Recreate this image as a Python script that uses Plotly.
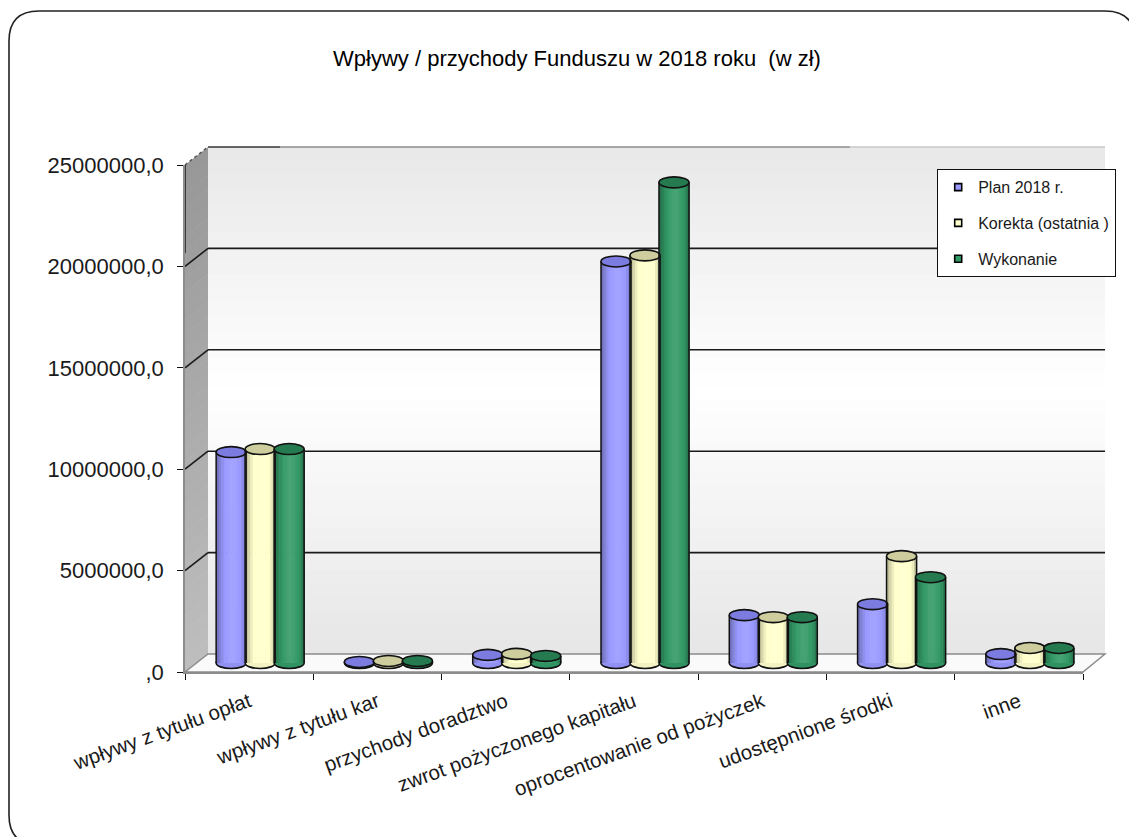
import plotly.graph_objects as go

W, H = 1129, 837
CATEGORIES = ["wpływy z tytułu opłat", "wpływy z tytułu kar", "przychody doradztwo",
              "zwrot pożyczonego kapitału", "oprocentowanie od pożyczek",
              "udostępnione środki", "inne"]
PLAN = [10400000, 50000, 400000, 19800000, 2360000, 2900000, 440000]
KOREKTA = [10550000, 100000, 450000, 20100000, 2260000, 5270000, 740000]
WYKONANIE = [10550000, 100000, 350000, 23700000, 2260000, 4230000, 740000]
SERIES = ["Plan 2018 r.", "Korekta (ostatnia )", "Wykonanie"]
Y_TICKS = [0, 5000000, 10000000, 15000000, 20000000, 25000000]
Y_LABELS = [",0", "5000000,0", "10000000,0", "15000000,0", "20000000,0", "25000000,0"]
TITLE = "Wpływy / przychody Funduszu w 2018 roku \u00a0(w zł)"

BASE = [(153, 153, 255), (255, 255, 204), (51, 153, 102)]
TOPS = ["#7C7CE0", "#CDCD9E", "#267A50"]
VALUES = [PLAN, KOREKTA, WYKONANIE]
SHADE = [0.74, 0.84, 0.93, 1.0, 1.04, 1.08, 1.1, 1.08, 1.04, 1.0, 0.92, 0.78]
FONT = "Liberation Sans"
INK = "#111111"

def px(x): return x / W
def py(y): return 1 - y / H
def pt(a, b): return "%.5f,%.5f" % (px(a), py(b))
def shade(c, f):
    if f <= 1:
        return "rgb(%d,%d,%d)" % tuple(round(v * f) for v in c)
    k = (f - 1) * 1.0
    return "rgb(%d,%d,%d)" % tuple(round(v + (255 - v) * k) for v in c)
def gray(g): return "rgb(%d,%d,%d)" % (g, g, g)
def poly(pts): return "M" + " L".join(pt(a, b) for a, b in pts) + " Z"

WALL_L, WALL_R, WALL_T, WALL_B = 208, 1105, 147, 654
FRONT_L, FRONT_R, FRONT_B, FRONT_T = 185, 1083, 672, 165
shapes = []
def paper(**k):
    shapes.append(dict(xref="paper", yref="paper", layer="below", **k))

# Back wall gradient
N = 36
for i in range(N):
    y0 = WALL_T + (WALL_B - WALL_T) * i / N
    y1 = WALL_T + (WALL_B - WALL_T) * (i + 1) / N + 0.6
    t = abs((i + 0.5) / N - 0.48) / 0.52
    paper(type="rect", x0=px(WALL_L), x1=px(WALL_R), y0=py(y0), y1=py(y1),
          fillcolor=gray(round(255 - 25 * t)), line_width=0)
# Left wall gradient
for i in range(N):
    a = (WALL_B - WALL_T) * i / N
    b = (WALL_B - WALL_T) * (i + 1) / N + 0.6
    paper(type="path", path=poly([(FRONT_L, FRONT_T + a), (WALL_L, WALL_T + a),
                                  (WALL_L, WALL_T + b), (FRONT_L, FRONT_T + b)]),
          fillcolor=gray(round(152 + 38 * i / N)), line_width=0)
# Floor
paper(type="path", path=poly([(FRONT_L, FRONT_B), (WALL_L, WALL_B), (WALL_R, WALL_B), (FRONT_R, FRONT_B)]),
      fillcolor="#FAFAFA", line=dict(color="#8C8C8C", width=1.5))
# Gridlines on back and side walls
for v in Y_TICKS[1:]:
    y = WALL_B - v / 25000000 * (WALL_B - WALL_T)
    if v < 25000000:
        paper(type="line", x0=px(WALL_L), x1=px(WALL_R), y0=py(y), y1=py(y), line=dict(color="#1A1A1A", width=1.6))
        paper(type="line", x0=px(FRONT_L), x1=px(WALL_L), y0=py(y + 18), y1=py(y), line=dict(color="#1A1A1A", width=1.6))
    else:
        paper(type="line", x0=px(WALL_L), x1=px(280), y0=py(y), y1=py(y), line=dict(color="#333333", width=1.5))
        paper(type="line", x0=px(280), x1=px(850), y0=py(y), y1=py(y), line=dict(color="#8C8C8C", width=1.5))
        paper(type="line", x0=px(850), x1=px(WALL_R), y0=py(y), y1=py(y), line=dict(color="#C8C8C8", width=1.5))
        paper(type="line", x0=px(FRONT_L), x1=px(WALL_L), y0=py(y + 18), y1=py(y),
              line=dict(color="#555555", width=1.5, dash="dot"))
# Dark upper part of the value axis line
paper(type="line", x0=px(FRONT_L), x1=px(FRONT_L), y0=py(FRONT_T), y1=py(253), line=dict(color="#222222", width=1.6))
# Rounded outer frame (right and bottom edges fall outside the picture)
paper(type="path",
      path="M" + pt(39, 845) + " Q" + pt(9, 845) + " " + pt(9, 815) + " L" + pt(9, 41)
           + " Q" + pt(9, 11) + " " + pt(39, 11) + " L" + pt(1105, 11)
           + " Q" + pt(1135, 11) + " " + pt(1135, 41) + " L" + pt(1135, 815),
      line=dict(color="#222222", width=1.6))

BAR_W, STEP = 0.234, 0.226
HALF_H = 270000
fig = go.Figure()
for s, name in enumerate(SERIES):
    off = (s - 1) * STEP
    n = len(SHADE)
    for j, f in enumerate(SHADE):
        fig.add_trace(go.Bar(
            x=list(range(len(CATEGORIES))), y=VALUES[s], xaxis="x", yaxis="y",
            width=BAR_W / n * 1.25, offset=off - BAR_W / 2 + j * BAR_W / n,
            marker=dict(color=shade(BASE[s], f), line_width=0),
            showlegend=False, hoverinfo="skip"))
    fig.add_trace(go.Scatter(x=[None], y=[None], mode="markers", name=name, xaxis="x2", yaxis="y2",
                             marker=dict(symbol="square", size=7, color=shade(BASE[s], 1),
                                         line=dict(color="#000000", width=1.6)),
                             legendgroup=name))
    for i, v in enumerate(VALUES[s]):
        x0, x1 = i + off - BAR_W / 2, i + off + BAR_W / 2
        common = dict(xref="x", yref="y")
        shapes.append(dict(type="circle", layer="between", x0=x0, x1=x1, y0=-HALF_H, y1=HALF_H,
                           fillcolor=shade(BASE[s], 0.95), line=dict(color=INK, width=1.6), **common))
        shapes.append(dict(type="line", layer="above", x0=x0, x1=x0, y0=0, y1=v, line=dict(color=INK, width=1.5), **common))
        shapes.append(dict(type="line", layer="above", x0=x1, x1=x1, y0=0, y1=v, line=dict(color=INK, width=1.5), **common))
        shapes.append(dict(type="circle", layer="above", x0=x0, x1=x1, y0=v - HALF_H, y1=v + HALF_H,
                           fillcolor=TOPS[s], line=dict(color=INK, width=1.6), **common))

Y_FLOOR = -1000000
PX_PER_UNIT = (FRONT_B - FRONT_T) / 25000000
fig.update_layout(
    width=W, height=H, autosize=False, margin=dict(l=0, r=0, t=0, b=0, autoexpand=False),
    paper_bgcolor="white", plot_bgcolor="rgba(0,0,0,0)", barmode="overlay",
    font=dict(family=FONT, color="#000000"), shapes=shapes,
    title=dict(text=TITLE, x=577 / W, xanchor="center", y=py(58), yanchor="middle",
               font=dict(size=22, family=FONT, color="#000000")),
    xaxis2=dict(domain=[px(FRONT_L), px(FRONT_R)], range=[-0.5, 6.5], anchor="y2", fixedrange=True,
                side="bottom", automargin=False,
                tickmode="array", tickvals=list(range(len(CATEGORIES))), ticktext=CATEGORIES,
                ticks="", tickangle=-20, tickfont=dict(size=20.5, color="#1A1A1A"), ticklabelstandoff=8,
                showgrid=False, zeroline=False,
                showline=True, linecolor="#8C8C8C", linewidth=2,
                minor=dict(tickmode="array", tickvals=[i - 0.5 for i in range(len(CATEGORIES) + 1)],
                           ticks="outside", ticklen=6, tickcolor="#111111", tickwidth=1.2, showgrid=False)),
    yaxis2=dict(domain=[py(FRONT_B), py(FRONT_T)], range=[0, 25000000], anchor="x2", fixedrange=True,
                side="left", automargin=False,
                tickmode="array", tickvals=Y_TICKS, ticktext=Y_LABELS, ticks="outside", ticklen=6,
                tickcolor="#111111", tickwidth=1.2, tickfont=dict(size=22, color="#1A1A1A"), ticklabelstandoff=9,
                showgrid=False, zeroline=False, showline=True, linecolor="#8C8C8C", linewidth=1.5),
    xaxis=dict(domain=[px(FRONT_L + 11), px(FRONT_R + 11)], range=[-0.5, 6.5], anchor="y",
               visible=False, fixedrange=True, automargin=False),
    yaxis=dict(domain=[py(663 - Y_FLOOR * PX_PER_UNIT), py(156)], range=[Y_FLOOR, 25000000], anchor="x",
               visible=False, fixedrange=True, automargin=False),
    legend=dict(x=px(937), y=py(169), xanchor="left", yanchor="top", bgcolor="white",
                bordercolor="#111111", borderwidth=1.2, font=dict(size=16, family=FONT, color="#1A1A1A"),
                tracegroupgap=12, itemclick=False, itemdoubleclick=False),
    showlegend=True,
)
fig.write_html("out.html", config={"displayModeBar": False},
               post_script="document.body.style.margin='0';")
